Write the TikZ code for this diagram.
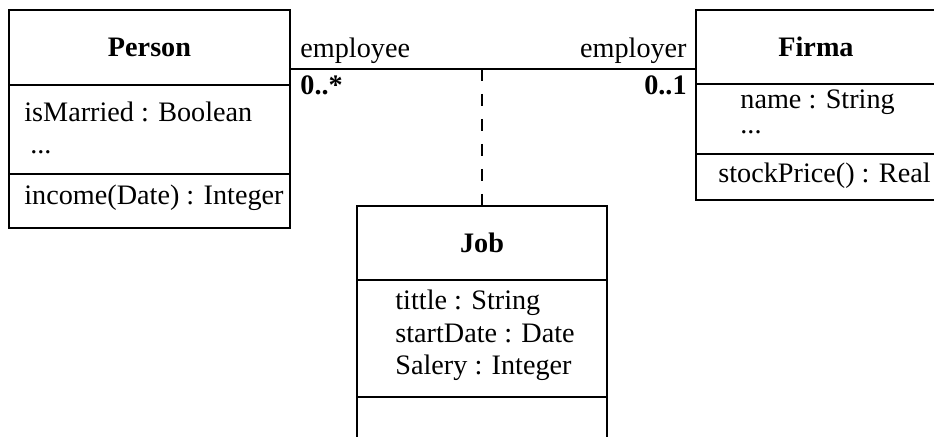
\documentclass[tikz,border=0pt]{standalone}
\usepackage{fontspec}
\setmainfont{Liberation Serif}
\usetikzlibrary{positioning}

\tikzset{
  sect/.style={draw, line width=0.75pt, outer sep=0pt, inner sep=0pt},
  dots/.style={anchor=base west, text height=2pt, text depth=0pt},
  assoc/.style={line width=0.75pt},
  link/.style={line width=0.75pt, dash pattern=on 6pt off 6.5pt}
}

\begin{document}
\begin{tikzpicture}[x=0.5pt, y=-0.5pt, font=\fontsize{14.1pt}{16.5pt}\selectfont,
  every node/.append style={inner sep=0pt}]
\useasboundingbox (0,0) rectangle (934,437);
\clip (0,0) rectangle (934,437);

% class Person
\node[sect, minimum width=140.5pt, minimum height=37.5pt, anchor=north west] (person) at (9,10) {\textbf{Person}};
\node[sect, minimum width=140.5pt, minimum height=44.5pt, below=0pt of person] (personattr) {};
\node[sect, minimum width=140.5pt, minimum height=27pt, below=0pt of personattr] (personop) {};
\node[anchor=base west] (married) at (24,122) {isMarried : Boolean};
\node[dots] (persondots) at (30,154) {...};
\node[anchor=base west] (income) at (24,205) {income(Date) : Integer};

% class Firma
\node[sect, minimum width=120pt, minimum height=37pt, anchor=north west] (firma) at (696,10) {\textbf{Firma}};
\node[sect, minimum width=120pt, minimum height=35pt, below=0pt of firma] (firmaattr) {};
\node[sect, minimum width=120pt, minimum height=23pt, below=0pt of firmaattr] (firmaop) {};
\node[anchor=base west] (name) at (740,109) {name : String};
\node[dots] (firmadots) at (740,134) {...};
\node[anchor=base west] (price) at (718,183) {stockPrice() : Real};

% association class Job
\node[sect, minimum width=125pt, minimum height=37pt, anchor=north west] (job) at (357,206) {\textbf{Job}};
\node[sect, minimum width=125pt, minimum height=58.5pt, below=0pt of job] (jobattr) {};
\node[sect, minimum width=125pt, minimum height=30pt, below=0pt of jobattr] (jobop) {};
\node[anchor=base west] (title) at (395,310) {tittle : String};
\node[anchor=base west] (start) at (395,343) {startDate : Date};
\node[anchor=base west] (salary) at (395,375) {Salery : Integer};

% association with roles and multiplicities
\path (person.north east) ++(0,59) coordinate (pe);
\path (firma.north west) ++(0,59) coordinate (fe);
\draw[assoc] (pe) -- (fe);
\draw[link] (job.north |- pe) -- (job.north);
\node[anchor=base west] (employee) at (300,58) {employee};
\node[anchor=base east] (employer) at (687,58) {employer};
\node[anchor=base west] (manymult) at (300,95) {\textbf{0..*}};
\node[anchor=base east] (onemult) at (687,95) {\textbf{0..1}};
\end{tikzpicture}
\end{document}
